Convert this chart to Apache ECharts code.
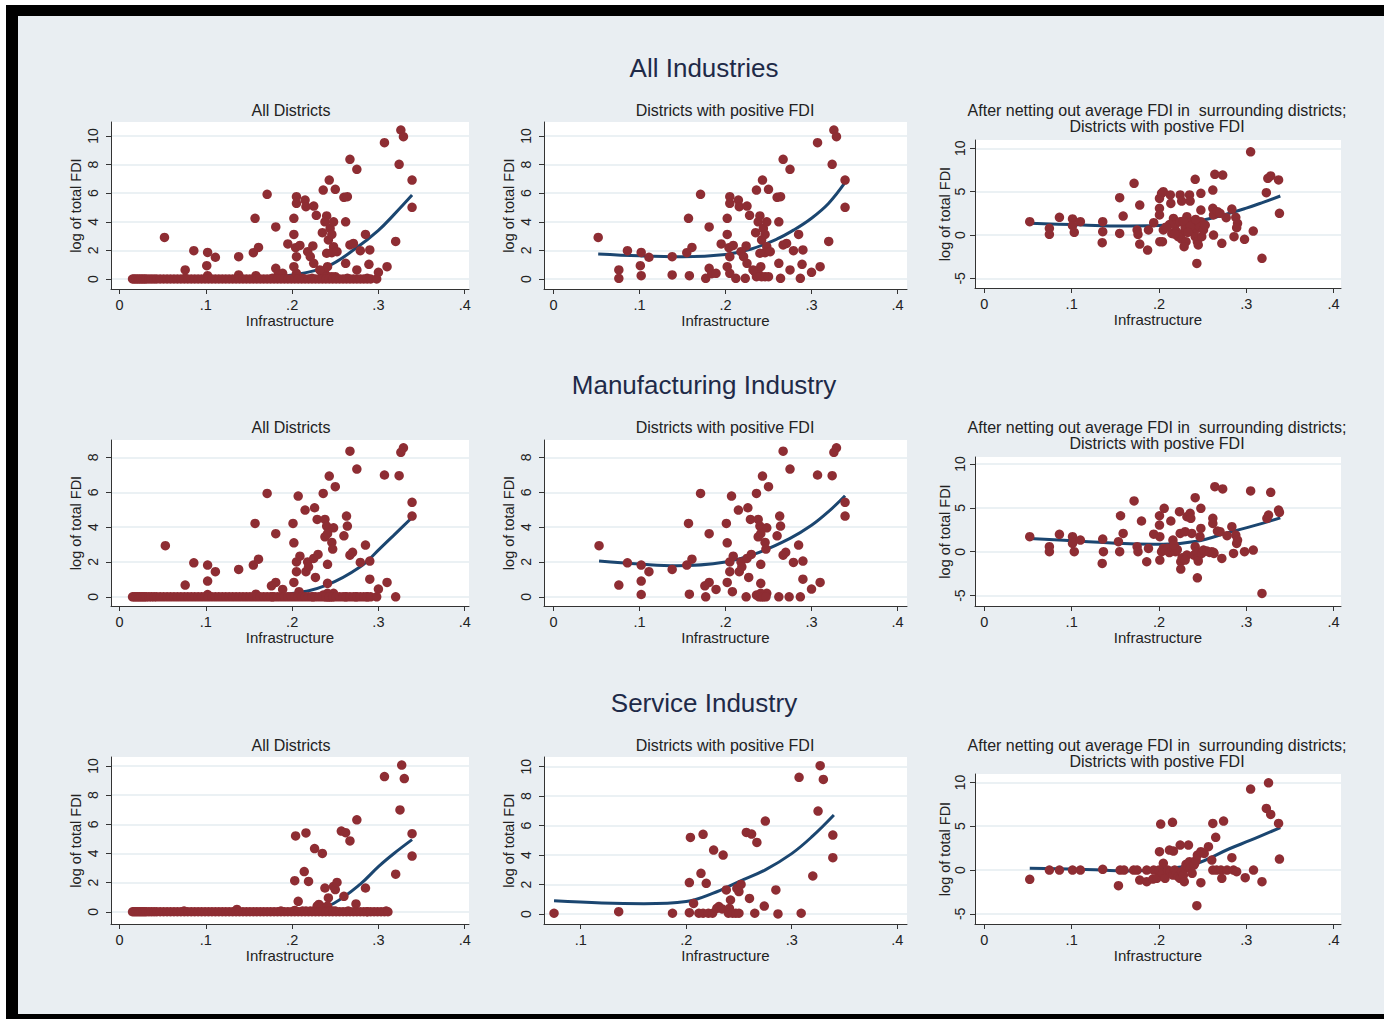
<!DOCTYPE html>
<html>
<head>
<meta charset="utf-8">
<title>FDI and infrastructure</title>
<script src="https://cdn.jsdelivr.net/npm/echarts@6/dist/echarts.min.js"></script>
<style>
  html, body { margin: 0; padding: 0; background: #fff; }
  #frame { position: absolute; left: 6px; top: 5px; width: 1378px; height: 1014px; background: #000; }
  #bg { position: absolute; left: 18px; top: 16px; width: 1366px; height: 998px; background: #e9eef2; }
  #chart { position: absolute; left: 0; top: 0; width: 1384px; height: 1019px; }
</style>
</head>
<body>
<div id="frame"></div>
<div id="bg"></div>
<div id="chart"></div>
<script>
const FONT = '"Liberation Sans", Arial, sans-serif'

const mainTitles = ['All Industries', 'Manufacturing Industry', 'Service Industry']
const subTitles = ['All Districts', 'Districts with positive FDI']
const netTitle = ['After netting out average FDI in  surrounding districts;', 'Districts with postive FDI']

const xTicksFull = [0, 0.1, 0.2, 0.3, 0.4]
const xTicksSvcPos = [0.1, 0.2, 0.3, 0.4]
const yTicks10 = [0, 2, 4, 6, 8, 10]
const yTicks8 = [0, 2, 4, 6, 8]
const yTicksNet = [-5, 0, 5, 10]

// ---- All industries ----
const allPos = [[0.052,2.91],[0.076,0.63],[0.076,0.05],[0.086,1.98],[0.102,1.86],[0.101,0.93],[0.102,0.23],[0.111,1.52],
  [0.138,1.56],[0.138,0.28],[0.157,4.24],[0.155,1.84],[0.161,2.21],[0.158,0.23],[0.171,5.92],[0.181,3.64],[0.181,0.75],
  [0.177,0.05],[0.184,0.37],[0.189,0.40],[0.195,2.45],[0.202,4.24],[0.202,3.12],[0.202,0.86],[0.204,2.19],[0.205,5.76],
  [0.205,5.29],[0.209,2.35],[0.205,1.56],[0.205,0.40],[0.215,5.52],[0.216,5.06],[0.212,0.05],[0.225,5.10],[0.228,4.45],
  [0.224,2.31],[0.218,1.91],[0.221,1.56],[0.225,1.10],[0.223,0.05],[0.236,6.22],[0.240,4.41],[0.238,4.00],[0.235,3.24],
  [0.242,2.73],[0.244,3.54],[0.243,6.92],[0.250,6.27],[0.248,4.00],[0.246,3.12],[0.248,2.26],[0.246,1.84],[0.240,1.80],
  [0.252,1.91],[0.234,0.51],[0.238,0.40],[0.242,0.16],[0.246,0.16],[0.250,0.16],[0.236,0.16],[0.241,0.86],[0.232,0.63],
  [0.260,5.71],[0.264,5.76],[0.262,4.00],[0.262,1.10],[0.264,0.05],[0.267,8.37],[0.275,7.67],[0.267,2.38],[0.271,2.49],
  [0.275,0.63],[0.279,1.98],[0.285,3.12],[0.290,2.03],[0.289,1.03],[0.287,0.05],[0.300,0.47],[0.310,0.86],[0.307,9.53],
  [0.320,2.63],[0.324,8.02],[0.326,10.42],[0.329,9.95],[0.339,6.92],[0.339,5.01]]
const allZeroX = [0.015,0.017,0.019,0.021,0.023,0.025,0.027,0.029,0.031,0.034,0.037,0.040,0.043,0.047,0.051,0.055,0.059,
  0.063,0.067,0.071,0.075,0.079,0.083,0.087,0.091,0.095,0.099,0.103,0.107,0.111,0.115,0.119,0.123,0.127,0.131,0.135,
  0.139,0.143,0.147,0.151,0.155,0.159,0.163,0.167,0.171,0.175,0.179,0.183,0.187,0.191,0.195,0.199,0.203,0.207,0.211,
  0.215,0.219,0.223,0.227,0.231,0.235,0.239,0.243,0.247,0.251,0.255,0.259,0.263,0.267,0.271,0.275,0.279,0.283,0.287,
  0.291,0.298]
const allFitAll = [[0.015,0.2],[0.06,0.05],[0.1,-0.02],[0.15,0.0],[0.2,0.28],[0.24,0.86],[0.275,2.2],[0.3,3.4],[0.318,4.5],[0.339,5.87]]
const allFitPos = [[0.052,1.75],[0.1,1.62],[0.15,1.56],[0.2,1.72],[0.23,2.1],[0.26,2.8],[0.28,3.45],[0.3,4.25],[0.32,5.3],[0.339,6.75]]
const allNet = [[0.052,1.54],[0.0745,0.77],[0.0745,0.08],[0.086,2.04],[0.101,1.85],[0.101,1.08],[0.103,0.31],[0.110,1.54],
  [0.1356,1.54],[0.1356,0.38],[0.135,-0.88],[0.155,4.31],[0.155,0.19],[0.159,2.19],[0.1715,5.96],[0.178,3.46],[0.175,0.58],
  [0.176,0.08],[0.178,-1.04],[0.187,-1.73],[0.188,0.58],[0.194,1.42],[0.2006,4.23],[0.2006,3.08],[0.2006,2.31],[0.201,-0.77],
  [0.203,4.81],[0.205,5.0],[0.205,0.58],[0.204,-0.77],[0.213,4.62],[0.2136,3.65],[0.2147,0.19],[0.2166,1.92],[0.2185,1.15],
  [0.22,0.38],[0.2243,4.62],[0.226,3.92],[0.2243,1.54],[0.225,0.08],[0.226,-0.46],[0.222,-0.19],[0.23,0.85],[0.231,-0.77],
  [0.232,2.12],[0.2288,-1.35],[0.235,4.62],[0.2357,3.92],[0.2376,1.54],[0.24,0.38],[0.2415,-0.19],[0.2415,6.42],[0.2434,0.77],
  [0.244,-0.77],[0.245,-1.15],[0.2434,-3.27],[0.248,4.81],[0.248,2.88],[0.248,1.54],[0.249,-0.19],[0.2464,0.96],[0.251,0.58],
  [0.253,1.15],[0.2617,5.19],[0.2617,3.08],[0.2625,0],[0.2625,2.31],[0.264,7.0],[0.267,2.69],[0.27,2.5],[0.273,6.92],
  [0.272,-0.96],[0.277,2.0],[0.2835,3.0],[0.286,-0.19],[0.288,2.04],[0.29,1.35],[0.289,0.85],[0.298,-0.5],[0.308,0.46],
  [0.305,9.6],[0.318,-2.69],[0.323,4.88],[0.3247,6.54],[0.328,6.81],[0.337,6.35],[0.338,2.5],[0.212,1.2],[0.218,0.1],
  [0.228,1.6],[0.236,1.0],[0.242,1.8],[0.233,0.3],[0.208,0.9]]
const allNetFit = [[0.052,1.35],[0.1,1.2],[0.15,1.05],[0.2,1.1],[0.24,1.5],[0.27,2.2],[0.3,3.1],[0.32,3.8],[0.339,4.5]]

// ---- Manufacturing ----
const mfgPos = [[0.053,2.93],[0.076,0.67],[0.086,1.95],[0.102,1.82],[0.102,0.9],[0.102,0.13],[0.111,1.44],[0.138,1.57],
  [0.157,4.21],[0.155,1.82],[0.161,2.16],[0.158,0.15],[0.171,5.93],[0.181,3.62],[0.181,0.82],[0.176,0.63],[0.177,0.0],
  [0.189,0.42],[0.201,4.21],[0.202,3.1],[0.202,0.82],[0.205,1.44],[0.205,2.0],[0.207,5.78],[0.209,2.33],[0.208,0.29],
  [0.215,4.98],[0.218,2.0],[0.216,1.44],[0.219,1.72],[0.226,5.11],[0.229,4.44],[0.225,2.2],[0.227,1.11],[0.224,0.0],
  [0.23,2.43],[0.236,5.93],[0.238,4.44],[0.24,4.06],[0.238,3.44],[0.241,3.62],[0.241,1.86],[0.241,0.77],[0.243,6.93],
  [0.25,6.32],[0.248,3.96],[0.246,3.12],[0.247,2.74],[0.236,0.1],[0.239,0.0],[0.242,0.0],[0.245,0.1],[0.248,0.2],
  [0.241,0.2],[0.244,0.0],[0.247,0.0],[0.26,3.5],[0.263,4.63],[0.264,4.06],[0.262,0.0],[0.267,8.36],[0.275,7.33],
  [0.267,2.39],[0.27,2.55],[0.279,1.97],[0.274,0.0],[0.285,2.97],[0.29,2.05],[0.29,1.01],[0.287,0.0],[0.3,0.44],
  [0.31,0.82],[0.307,6.99],[0.324,6.95],[0.326,8.29],[0.329,8.55],[0.339,5.42],[0.339,4.63]]
const mfgZeroX = [0.015,0.017,0.019,0.021,0.023,0.025,0.027,0.029,0.031,0.034,0.037,0.040,0.043,0.047,0.051,0.055,0.059,
  0.063,0.067,0.071,0.075,0.079,0.083,0.087,0.091,0.095,0.099,0.103,0.107,0.111,0.115,0.119,0.123,0.127,0.131,0.135,
  0.139,0.143,0.147,0.151,0.155,0.159,0.163,0.167,0.171,0.175,0.179,0.183,0.187,0.191,0.195,0.199,0.203,0.207,0.211,
  0.215,0.219,0.223,0.227,0.231,0.235,0.239,0.243,0.247,0.251,0.255,0.259,0.263,0.267,0.271,0.275,0.279,0.283,0.287,
  0.291,0.298,0.320]
const mfgFitAll = [[0.015,0.15],[0.06,0.02],[0.1,-0.03],[0.15,0.0],[0.2,0.19],[0.24,0.67],[0.279,1.72],[0.302,2.78],[0.318,3.54],[0.339,4.55]]
const mfgFitPos = [[0.053,2.05],[0.1,1.88],[0.143,1.78],[0.2,2.0],[0.236,2.49],[0.275,3.35],[0.3,4.1],[0.32,4.9],[0.339,5.8]]
const mfgNet = [[0.052,1.71],[0.0745,0.57],[0.0745,0],[0.086,1.98],[0.101,1.71],[0.101,0.95],[0.103,0],[0.110,1.33],
  [0.1356,1.44],[0.1364,0],[0.135,-1.33],[0.156,4.1],[0.155,0],[0.159,2.09],[0.1536,1.14],[0.1715,5.78],[0.18,3.5],
  [0.175,0.57],[0.176,0],[0.186,-1.14],[0.188,0.38],[0.194,2.0],[0.2006,4.1],[0.2006,3.04],[0.201,1.71],[0.201,-0.95],
  [0.206,4.94],[0.205,0.38],[0.203,0],[0.207,0.2],[0.21,0.4],[0.212,-0.1],[0.215,0.1],[0.217,0.5],[0.219,0],[0.221,0.25],
  [0.2136,3.5],[0.216,1.33],[0.2174,0.76],[0.2235,4.56],[0.2243,2.09],[0.225,-1.14],[0.225,-1.98],[0.2265,-0.68],
  [0.23,2.28],[0.232,3.99],[0.232,-0.38],[0.23,-0.95],[0.2357,4.37],[0.2365,3.8],[0.2376,2.09],[0.24,-0.38],[0.2415,0.57],
  [0.2415,6.16],[0.2434,0],[0.2445,-0.76],[0.245,-1.06],[0.244,-2.97],[0.248,4.94],[0.248,2.66],[0.247,1.71],[0.249,-0.19],
  [0.251,0.19],[0.255,0.08],[0.258,-0.08],[0.2605,0],[0.2625,-0.08],[0.2617,3.8],[0.2617,3.23],[0.263,-0.19],[0.264,7.41],
  [0.273,7.15],[0.267,2.36],[0.27,2.28],[0.272,-0.76],[0.278,1.83],[0.2835,2.85],[0.2854,-0.19],[0.288,1.9],[0.289,0.95],
  [0.29,1.33],[0.298,0],[0.308,0.19],[0.305,6.92],[0.318,-4.75],[0.3236,3.8],[0.3255,4.18],[0.328,6.77],[0.337,4.75],[0.338,4.49]]
const mfgNetFit = [[0.052,1.5],[0.11,1.2],[0.167,0.9],[0.205,0.85],[0.243,1.2],[0.28,2.2],[0.31,3.0],[0.339,3.85]]

// ---- Service ----
const svcPos = [[0.0747,0.05],[0.136,0.16],[0.187,0.05],[0.203,2.13],[0.204,5.2],[0.203,0.09],[0.207,0.72],[0.214,2.76],
  [0.216,5.41],[0.219,2.08],[0.212,0.05],[0.216,0.05],[0.221,0.05],[0.225,0.05],[0.226,4.34],[0.235,4.0],[0.229,0.38],
  [0.231,0.5],[0.234,0.34],[0.238,1.63],[0.242,0.95],[0.241,0.38],[0.24,0.05],[0.244,0.05],[0.247,0.05],[0.25,0.05],
  [0.248,1.74],[0.25,1.52],[0.252,2.01],[0.257,5.54],[0.262,5.43],[0.267,4.86],[0.26,1.06],[0.265,0.05],[0.275,6.31],
  [0.274,0.54],[0.285,1.63],[0.287,0.0],[0.307,9.28],[0.309,0.05],[0.32,2.58],[0.325,6.99],[0.327,10.07],[0.33,9.14],
  [0.339,5.36],[0.339,3.82]]
const svcZeroX = [0.015,0.017,0.019,0.021,0.023,0.025,0.027,0.029,0.031,0.034,0.037,0.040,0.043,0.047,0.051,0.055,0.059,
  0.063,0.067,0.071,0.075,0.079,0.083,0.087,0.091,0.095,0.099,0.103,0.107,0.111,0.115,0.119,0.123,0.127,0.131,0.135,
  0.139,0.143,0.147,0.151,0.155,0.159,0.163,0.167,0.171,0.175,0.179,0.183,0.187,0.191,0.195,0.199,0.203,0.207,0.211,
  0.215,0.219,0.223,0.227,0.231,0.235,0.239,0.243,0.247,0.251,0.255,0.259,0.263,0.267,0.271,0.275,0.279,0.283,0.287,
  0.291,0.295,0.299,0.303,0.307,0.311]
const svcFitAll = [[0.015,0.2],[0.05,0.1],[0.1,-0.02],[0.15,-0.15],[0.185,-0.15],[0.21,0.0],[0.23,0.25],[0.248,0.57],[0.279,1.9],[0.3,3.1],[0.318,4.0],[0.339,4.95]]
const svcFitPos = [[0.0747,0.9],[0.12,0.75],[0.16,0.7],[0.2,0.85],[0.225,1.4],[0.25,2.2],[0.275,3.0],[0.3,4.1],[0.32,5.3],[0.34,6.72]]
const svcNet = [[0.052,-1.06],[0.0745,0],[0.086,0],[0.101,0],[0.11,0],[0.1356,0.08],[0.1536,-1.79],[0.1555,0],[0.16,0],
  [0.171,0],[0.175,0],[0.186,0],[0.194,0],[0.178,-1.14],[0.186,-1.33],[0.193,-1.03],[0.1975,-0.95],[0.2006,2.09],
  [0.202,5.25],[0.205,0.76],[0.2,0],[0.204,-0.38],[0.207,-0.95],[0.21,0],[0.213,-0.19],[0.216,-0.57],[0.218,0],
  [0.22,-0.38],[0.222,-0.76],[0.224,-0.95],[0.226,-0.19],[0.228,-0.57],[0.229,-1.33],[0.23,0.19],[0.231,0.65],[0.233,0.38],
  [0.235,0.95],[0.236,0.19],[0.238,-0.38],[0.24,0.57],[0.241,0.76],[0.212,2.28],[0.2166,2.17],[0.2155,5.44],[0.2243,2.85],
  [0.2338,2.85],[0.2426,1.14],[0.244,1.71],[0.248,2.09],[0.2518,1.9],[0.248,-1.44],[0.2434,-4.07],[0.2567,2.66],
  [0.2605,1.14],[0.2617,0],[0.266,0],[0.271,0],[0.278,0],[0.2854,0],[0.289,-0.19],[0.265,3.73],[0.2617,5.32],[0.274,5.59],
  [0.272,-0.95],[0.2835,1.41],[0.2988,-0.87],[0.3083,0],[0.305,9.24],[0.318,-1.33],[0.323,7.03],[0.3255,9.96],[0.328,6.35],
  [0.337,5.32],[0.338,1.25]]
const svcNetFit = [[0.052,0.2],[0.11,0.1],[0.167,-0.1],[0.205,0.1],[0.243,0.75],[0.28,2.4],[0.305,3.4],[0.339,4.85]]

// panel layout (pixel boxes + axis ranges)
const panels = [
  { box: [111, 122, 358, 167], x: [-0.01, 0.405], y: [-0.70, 10.98], xt: xTicksFull, yt: yTicks10, pts: [...allPos, ...allZeroX.map(v => [v, 0])], fit: allFitAll, col: 0 },
  { box: [544, 122, 363, 167], x: [-0.011, 0.411], y: [-0.70, 10.98], xt: xTicksFull, yt: yTicks10, pts: allPos, fit: allFitPos, col: 1 },
  { box: [975, 140, 366, 148], x: [-0.0107, 0.4085], y: [-6.11, 10.96], xt: xTicksFull, yt: yTicksNet, pts: allNet, fit: allNetFit, col: 2 },
  { box: [111, 440, 358, 166], x: [-0.01, 0.405], y: [-0.53, 9.0], xt: xTicksFull, yt: yTicks8, pts: [...mfgPos, ...mfgZeroX.map(v => [v, 0])], fit: mfgFitAll, col: 0 },
  { box: [544, 440, 363, 166], x: [-0.011, 0.411], y: [-0.53, 9.0], xt: xTicksFull, yt: yTicks8, pts: mfgPos, fit: mfgFitPos, col: 1 },
  { box: [975, 457, 366, 149], x: [-0.0107, 0.4085], y: [-6.18, 10.79], xt: xTicksFull, yt: yTicksNet, pts: mfgNet, fit: mfgNetFit, col: 2 },
  { box: [111, 757, 358, 167], x: [-0.01, 0.405], y: [-0.84, 10.62], xt: xTicksFull, yt: yTicks10, pts: [...svcPos, ...svcZeroX.map(v => [v, 0])], fit: svcFitAll, col: 0 },
  { box: [544, 757, 363, 167], x: [0.0652, 0.4093], y: [-0.68, 10.66], xt: xTicksSvcPos, yt: yTicks10, pts: svcPos, fit: svcFitPos, col: 1 },
  { box: [975, 774, 366, 150], x: [-0.0107, 0.4085], y: [-6.16, 10.96], xt: xTicksFull, yt: yTicksNet, pts: svcNet, fit: svcNetFit, col: 2 }
]

const rowTitleY = [68, 385, 703]
const subTitleY = [110, 427, 745]
const colCenter = [291, 725, 1157]

const fmtX = v => (v === 0 ? '0' : String(+v.toFixed(1)).replace(/^0\./, '.'))

function textEl(text, x, y, size, color) {
  return {
    type: 'text', x, y, silent: true,
    style: { text, fill: color, font: `${size}px ${FONT}`, textAlign: 'center', textVerticalAlign: 'middle' }
  }
}

function buildOption() {
  const grid = [], xAxis = [], yAxis = [], series = [], graphic = []

  panels.forEach((p, i) => {
    const isNet = p.col === 2
    grid.push({
      left: p.box[0], top: p.box[1], width: p.box[2], height: p.box[3],
      show: true, backgroundColor: '#ffffff', borderWidth: 0
    })
    xAxis.push({
      gridIndex: i, type: 'value', min: p.x[0], max: p.x[1],
      name: 'Infrastructure', nameLocation: 'middle', nameGap: 20,
      nameTextStyle: { color: '#222', fontSize: 15, fontFamily: FONT },
      axisLine: { onZero: false, lineStyle: { color: '#333', width: 1 } },
      axisTick: { length: 5, customValues: p.xt, lineStyle: { color: '#333' } },
      axisLabel: { customValues: p.xt, formatter: fmtX, margin: 8, color: '#222', fontSize: 14.5, fontFamily: FONT },
      splitLine: { show: false }
    })
    yAxis.push({
      gridIndex: i, type: 'value', min: p.y[0], max: p.y[1],
      name: 'log of total FDI', nameLocation: 'middle', nameGap: isNet ? 23 : 28,
      nameTextStyle: { color: '#222', fontSize: 14.5, fontFamily: FONT },
      axisLine: { onZero: false, lineStyle: { color: '#333', width: 1 } },
      axisTick: { length: 5, customValues: p.yt, lineStyle: { color: '#333' } },
      axisLabel: { customValues: p.yt, rotate: 90, margin: isNet ? 8 : 11, color: '#222', fontSize: 14, fontFamily: FONT },
      splitLine: { show: true, lineStyle: { color: '#e5ecf1', width: 1.5 } }
    })
    series.push({
      type: 'line', xAxisIndex: i, yAxisIndex: i, data: p.fit,
      smooth: 0.4, showSymbol: false, silent: true, z: 2,
      lineStyle: { color: '#1b4670', width: 3 }
    })
    series.push({
      type: 'scatter', xAxisIndex: i, yAxisIndex: i, data: p.pts,
      symbolSize: 9.5, z: 3, silent: true,
      itemStyle: { color: '#8e2d33', opacity: 1 }
    })

    const row = Math.floor(i / 3)
    if (isNet) {
      graphic.push(textEl(netTitle[0], colCenter[2], subTitleY[row], 16, '#222'))
      graphic.push(textEl(netTitle[1], colCenter[2], subTitleY[row] + 16, 16, '#222'))
    } else {
      graphic.push(textEl(subTitles[p.col], colCenter[p.col], subTitleY[row], 16, '#222'))
    }
  })

  mainTitles.forEach((t, r) => graphic.push(textEl(t, 704, rowTitleY[r], 26, '#1e2a48')))

  return { animation: false, backgroundColor: 'transparent', grid, xAxis, yAxis, series, graphic }
}

const chart = echarts.init(document.getElementById('chart'), null, { renderer: 'svg' })
chart.setOption(buildOption())
</script>
</body>
</html>
